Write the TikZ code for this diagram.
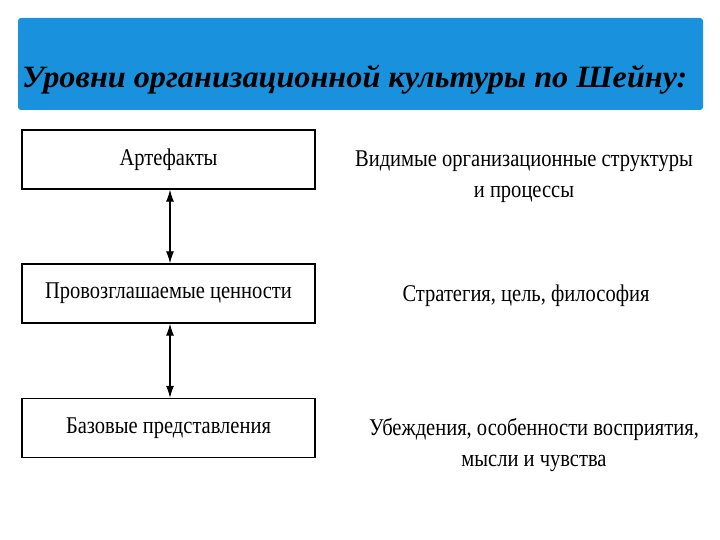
\documentclass[tikz,border=0pt]{standalone}
\usepackage{fontspec}
\setmainfont{Liberation Serif}
\usetikzlibrary{arrows.meta}
\begin{document}
\begin{tikzpicture}[x=1pt,y=-1pt,
  lvl/.style={draw,line width=1.3pt,minimum width=293pt,minimum height=59pt,inner sep=0pt},
  txt/.style={font=\fontsize{24}{31}\selectfont,xscale=0.855,align=center},
  arr/.style={line width=1.2pt,{Latex[length=12pt,width=8pt]}-{Latex[length=12pt,width=8pt]}}]
\useasboundingbox (0,0) rectangle (720,540);
\fill[white] (0,0) rectangle (720,540);
\fill[rounded corners=3pt,fill={rgb,255:red,26;green,145;blue,220}] (18,18) rectangle (703,110);
\node[anchor=base west,inner sep=0pt,font=\fontsize{31}{34}\selectfont\bfseries\itshape,xscale=1.04] (title) at (22,88) {Уровни организационной культуры по Шейну:};
\node[lvl] (b1) at (168.5,159.5) {};
\node[lvl] (b2) at (168.5,293.5) {};
\node[lvl] (b3) at (168.5,428) {};
\node[txt] (t1) at (b1) {Артефакты};
\node[txt] (t2) at (b2) {Провозглашаемые ценности};
\node[txt] (t3) at (b3) {Базовые представления};
\draw[arr] (b1.south -| 170,0) -- (b2.north -| 170,0);
\draw[arr] (b2.south -| 170,0) -- (b3.north -| 170,0);
\node[txt] (r1) at (524,177) {Видимые организационные структуры\\и процессы};
\node[txt] (r2) at (526,296) {Стратегия, цель, философия};
\node[txt] (r3) at (534,445) {Убеждения, особенности восприятия,\\мысли и чувства};
\end{tikzpicture}
\end{document}
